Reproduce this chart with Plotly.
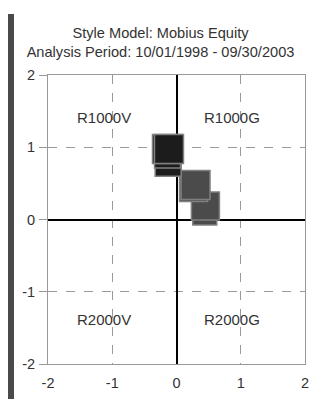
import plotly.graph_objects as go

# Style map data (rolling-window positions, oldest first)
style_x = [0.44, 0.45, 0.265, 0.296, -0.13, -0.14, -0.148, -0.117]
style_y = [0.09, 0.187, 0.443, 0.477, 0.78, 0.893, 0.976, 0.976]

# Quadrant labels
quad_labels = ["R1000V", "R1000G", "R2000V", "R2000G"]
quad_x = [-1.13, 0.87, -1.13, 0.87]
quad_y = [1.41, 1.41, -1.39, -1.39]

tick_vals = [-2, -1, 0, 1, 2]
tick_text = ["-2", "-1", "0", "1", "2"]

title_lines = ["Style Model: Mobius Equity", "Analysis Period: 10/01/1998 - 09/30/2003"]

# styles
marker_sizes = [24, 28, 28, 29, 26, 26, 29, 29]
marker_fills = ["#4b4b4b", "#4b4b4b", "#4b4b4b", "#4b4b4b",
                "#1c1c1c", "#1c1c1c", "#1c1c1c", "#1c1c1c"]

FONT = "Liberation Sans, Arial, sans-serif"

# page body has an 8px margin, so the figure is sized to fit the window
W, H = 313, 391
L, R, T, B = 40, 16, 67, 35
PW, PH = W - L - R, H - T - B

fig = go.Figure()
fig.add_trace(go.Scatter(
    x=style_x, y=style_y, mode="markers",
    marker=dict(symbol="square", size=marker_sizes, color=marker_fills,
                opacity=1, line=dict(color="#808080", width=1.5)),
    showlegend=False, hoverinfo="skip",
))

for t, x, y in zip(quad_labels, quad_x, quad_y):
    fig.add_annotation(x=x, y=y, text=t, showarrow=False,
                       font=dict(family=FONT, size=15, color="#333333"))

# left dark bar
fig.add_shape(type="rect", xref="paper", yref="paper",
              x0=(0 - L) / PW, x1=(6 - L) / PW,
              y0=(T + PH - H) / PH, y1=(T + PH - 6) / PH,
              fillcolor="#4a4a4a", line=dict(width=0), layer="above")

axis_common = dict(
    range=[-2, 2], tickvals=tick_vals, ticktext=tick_text,
    showgrid=True, gridcolor="#9a9a9a", griddash="dash", gridwidth=1,
    zeroline=True, zerolinecolor="#000000", zerolinewidth=1.5,
    showline=True, linecolor="#999999", linewidth=1, mirror=True,
    tickfont=dict(family=FONT, size=14.5, color="#333333"),
    fixedrange=True,
)

fig.update_xaxes(**axis_common, ticks="", ticklabelstandoff=6)
fig.update_yaxes(**axis_common, ticks="outside", ticklen=8, tickcolor="#9a9a9a",
                 ticklabelstandoff=1)

fig.update_layout(
    width=W, height=H,
    margin=dict(l=L, r=R, t=T, b=B, autoexpand=False),
    paper_bgcolor="#ffffff", plot_bgcolor="#ffffff",
    title=dict(text="<br>".join(title_lines), xref="container", yref="container",
               x=(160.5 - 8) / W, xanchor="center", y=1 - 30 / H, yanchor="top",
               font=dict(family=FONT, size=14.6, color="#333333")),
)

fig.write_html("out.html")
